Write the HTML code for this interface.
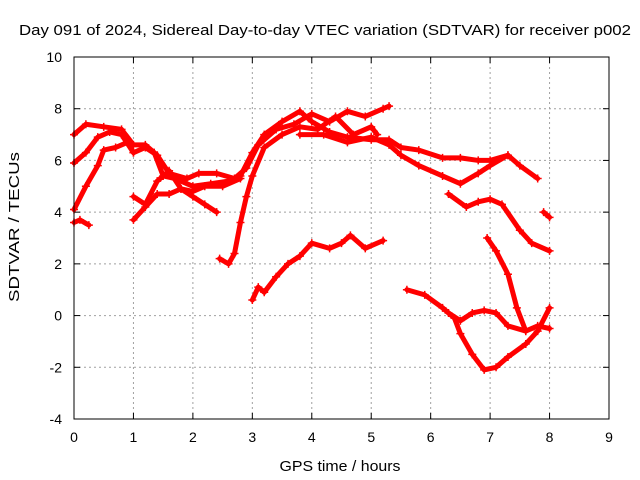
<!DOCTYPE html>
<html><head><meta charset="utf-8"><style>
body{margin:0;background:#fff}
svg{display:block;font-family:"Liberation Sans",sans-serif}
</style></head><body>
<svg id="chart" width="640" height="480">
<rect width="640" height="480" fill="#fff"/>
<text x="325" y="35" text-anchor="middle" font-size="15" textLength="612" lengthAdjust="spacingAndGlyphs">Day 091 of 2024, Sidereal Day-to-day VTEC variation (SDTVAR) for receiver p002</text>
<text x="340" y="471" text-anchor="middle" font-size="15" textLength="121" lengthAdjust="spacingAndGlyphs">GPS time / hours</text>
<text transform="translate(19,227) rotate(-90)" text-anchor="middle" font-size="15" textLength="150" lengthAdjust="spacingAndGlyphs">SDTVAR / TECUs</text>
<g id="grid"></g><g id="series"></g>
<rect x="74" y="57" width="535" height="362" fill="none" stroke="#000"/>
</svg>
<script>
const xTicks=[0,1,2,3,4,5,6,7,8,9];
const yTicks=[-4,-2,0,2,4,6,8,10];
const traceA=[[0,7.0],[0.2,7.4],[0.5,7.3],[0.8,7.2],[1.0,6.6],[1.2,6.6],[1.35,6.3],[1.5,5.4],[1.7,5.3],[2.0,5.0],[2.3,5.1],[2.6,5.2],[2.8,5.4],[3.0,6.3],[3.2,7.0],[3.5,7.5],[3.8,7.9],[4.0,7.5],[4.3,7.1],[4.6,6.9],[5.0,6.8],[5.3,6.8],[5.5,6.5],[5.8,6.4],[6.2,6.1],[6.5,6.1],[6.8,6.0],[7.0,6.0],[7.3,6.2],[7.5,5.8],[7.8,5.3]];
const traceB=[[0,5.9],[0.2,6.3],[0.4,6.9],[0.6,7.1],[0.8,7.0],[1.0,6.3],[1.2,6.5],[1.4,6.2],[1.6,5.5],[1.9,5.3],[2.1,5.5],[2.4,5.5],[2.7,5.3],[2.9,5.7],[3.1,6.6],[3.4,7.2],[3.7,7.4],[4.0,7.8],[4.3,7.5],[4.6,7.9],[4.9,7.7],[5.2,8.0],[5.3,8.1]];
const traceC=[[0,4.1],[0.2,5.0],[0.4,5.8],[0.5,6.4],[0.7,6.5],[0.9,6.7],[1.0,6.3]];
const traceD=[[0,3.6],[0.1,3.7],[0.25,3.5]];
const traceE=[[1.0,3.7],[1.2,4.2],[1.4,4.7],[1.6,4.7],[1.8,4.9],[2.0,4.8],[2.2,5.0],[2.5,5.0],[2.8,5.3]];
const traceF=[[1.0,4.6],[1.2,4.3],[1.4,5.2],[1.6,5.6],[1.8,4.9],[2.0,4.6],[2.2,4.3],[2.4,4.0]];
const traceG=[[2.45,2.2],[2.6,2.0],[2.7,2.4],[2.8,3.6],[2.9,4.6],[3.0,5.4],[3.2,6.5],[3.5,7.0],[3.8,7.3],[4.1,7.2],[4.4,7.7],[4.7,7.0],[5.0,7.3],[5.1,7.0]];
const traceH=[[3.0,0.6],[3.1,1.1],[3.2,0.9],[3.4,1.5],[3.6,2.0],[3.8,2.3],[4.0,2.8],[4.3,2.6],[4.5,2.8],[4.65,3.1],[4.9,2.6],[5.2,2.9]];
const traceI=[[3.8,7.0],[4.2,7.0],[4.6,6.7],[5.0,6.9],[5.3,6.6],[5.5,6.2],[5.8,5.8],[6.2,5.4],[6.5,5.1],[6.8,5.5],[7.0,5.8],[7.3,6.2]];
const traceJ=[[6.3,4.7],[6.6,4.2],[6.8,4.4],[7.0,4.5],[7.2,4.3],[7.5,3.3],[7.7,2.8],[8.0,2.5]];
const traceK=[[7.9,4.0],[8.0,3.8]];
const traceL=[[6.95,3.0],[7.1,2.5],[7.3,1.6],[7.45,0.3],[7.6,-0.6]];
const traceM=[[5.6,1.0],[5.9,0.8],[6.2,0.3],[6.4,-0.1],[6.5,-0.7],[6.7,-1.5],[6.9,-2.1],[7.1,-2.0],[7.3,-1.6],[7.6,-1.1],[7.8,-0.6],[8.0,0.3]];
const traceN=[[6.3,0.1],[6.5,-0.2],[6.7,0.1],[6.9,0.2],[7.1,0.1],[7.3,-0.4],[7.6,-0.6],[7.8,-0.4],[8.0,-0.5]];
const traces=[traceA,traceB,traceC,traceD,traceE,traceF,traceG,traceH,traceI,traceJ,traceK,traceL,traceM,traceN];

const NS="http://www.w3.org/2000/svg";
const X=v=>74+(v-0)*(535/9);
const Y=v=>419-(v+4)*(362/14);
function mk(t,a,p){const e=document.createElementNS(NS,t);for(const k in a)e.setAttribute(k,a[k]);p.appendChild(e);return e;}
const g=document.getElementById('grid'),s=document.getElementById('series');
xTicks.forEach(t=>{const x=X(t);
 if(t>0&&t<9){const l=mk('line',{x1:x,x2:x,y1:57,y2:419,stroke:'#a0a0a0','stroke-dasharray':'2,3'},g);
 
 }
 mk('line',{x1:x,x2:x,y1:419,y2:413,stroke:'#000'},g);mk('line',{x1:x,x2:x,y1:57,y2:63,stroke:'#000'},g);
 const tx=mk('text',{x:x,y:442,'text-anchor':'middle','font-size':14},g);tx.textContent=t;
 
 });
yTicks.forEach(t=>{const y=Y(t);
 if(t>-4&&t<10){const l=mk('line',{x1:74,x2:609,y1:y,y2:y,stroke:'#a0a0a0','stroke-dasharray':'2,3'},g);
 
 }
 mk('line',{x1:74,x2:80,y1:y,y2:y,stroke:'#000'},g);mk('line',{x1:609,x2:603,y1:y,y2:y,stroke:'#000'},g);
 const tx=mk('text',{x:62,y:y+5,'text-anchor':'end','font-size':14},g);tx.textContent=t;
 
 });
traces.forEach((tr,i)=>{
 const pl=mk('polyline',{points:tr.map(p=>X(p[0])+','+Y(p[1])).join(' '),fill:'none',stroke:'#f00','stroke-width':5,'stroke-linejoin':'round','stroke-linecap':'round'},s);
 
 
 tr.forEach(p=>{const x=X(p[0]),y=Y(p[1]);
  const m=mk('path',{d:`M${x-4},${y}H${x+4}M${x},${y-4}V${y+4}`,stroke:'#f00','stroke-width':1.5},s);
  
  });
});
</script>
</body></html>
